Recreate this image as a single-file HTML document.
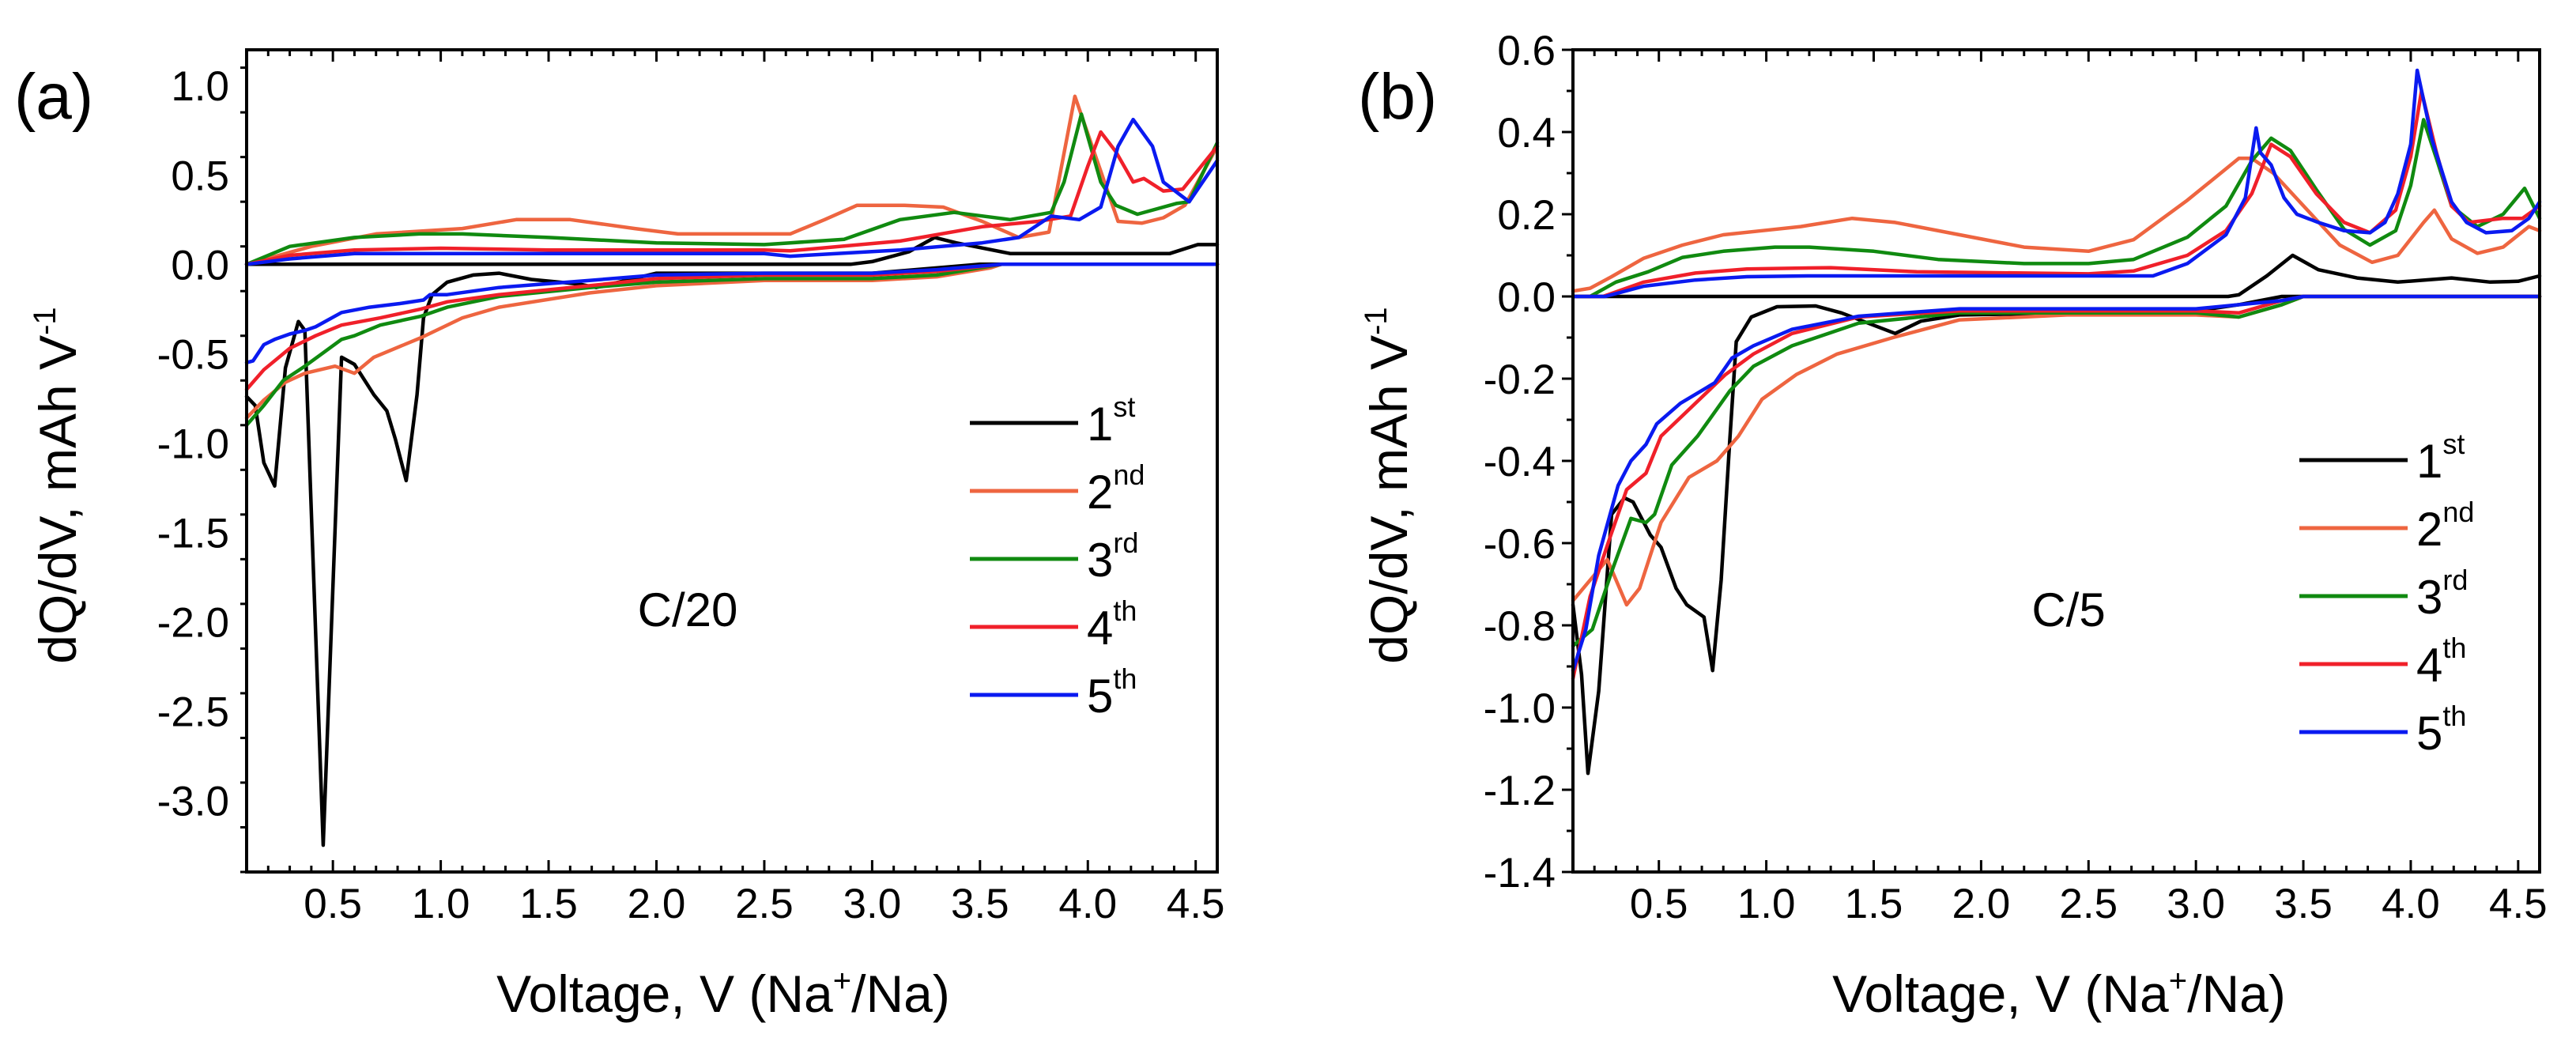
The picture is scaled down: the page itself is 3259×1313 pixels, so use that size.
<!DOCTYPE html>
<html><head><meta charset="utf-8"><style>
html,body{margin:0;padding:0;background:#fff;}
svg{display:block;font-family:"Liberation Sans",Arial,sans-serif;}
</style></head><body>
<svg id="fig" width="3259" height="1313" viewBox="0 0 3259 1313" xmlns="http://www.w3.org/2000/svg"></svg>
<script>
// ---------- Panel (a) C/20 data ----------
const aC1x=[0.1,2.9,3.0,3.17,3.29,3.39,3.64,4.38,4.51,4.6];
const aC1y=[0,0,0.015,0.07,0.15,0.12,0.06,0.06,0.11,0.11];
const aD1x=[0.1,0.14,0.18,0.23,0.28,0.34,0.37,0.455,0.54,0.6,0.69,0.75,0.79,0.84,0.89,0.92,0.96,1.03,1.15,1.27,1.42,1.64,1.72,2.0,3.0,3.2,3.5,4.6];
const aD1y=[-0.74,-0.79,-1.11,-1.24,-0.58,-0.32,-0.37,-3.25,-0.52,-0.56,-0.73,-0.82,-0.98,-1.21,-0.73,-0.3,-0.17,-0.1,-0.06,-0.05,-0.085,-0.11,-0.13,-0.05,-0.05,-0.03,0,0];
const aC2x=[0.1,0.4,0.7,1.1,1.35,1.6,1.9,2.1,2.5,2.62,2.78,2.93,3.15,3.33,3.51,3.68,3.82,3.94,4.14,4.25,4.35,4.45,4.6];
const aC2y=[0,0.1,0.17,0.2,0.25,0.25,0.2,0.17,0.17,0.17,0.25,0.33,0.33,0.32,0.24,0.15,0.18,0.94,0.24,0.23,0.26,0.33,0.66];
const aD2x=[0.1,0.18,0.28,0.37,0.51,0.6,0.69,0.91,1.1,1.27,1.69,2.0,2.5,3.0,3.3,3.55,3.6,4.6];
const aD2y=[-0.86,-0.76,-0.66,-0.61,-0.57,-0.61,-0.52,-0.41,-0.3,-0.24,-0.16,-0.12,-0.09,-0.09,-0.07,-0.02,0,0];
const aC3x=[0.1,0.3,0.6,0.9,1.1,1.5,2.0,2.5,2.62,2.87,3.13,3.38,3.64,3.83,3.89,3.97,4.06,4.13,4.23,4.41,4.47,4.6];
const aC3y=[0,0.1,0.15,0.17,0.17,0.15,0.12,0.11,0.12,0.14,0.25,0.29,0.25,0.29,0.46,0.84,0.46,0.33,0.28,0.34,0.35,0.68];
const aD3x=[0.1,0.18,0.27,0.37,0.45,0.54,0.6,0.72,0.91,1.03,1.27,1.69,2.0,2.5,3.0,3.3,3.6,4.6];
const aD3y=[-0.9,-0.79,-0.65,-0.57,-0.5,-0.42,-0.4,-0.34,-0.29,-0.24,-0.18,-0.13,-0.1,-0.08,-0.08,-0.06,0,0];
const aC4x=[0.1,0.3,0.6,1.0,1.5,2.5,2.62,3.13,3.51,3.77,3.92,4.0,4.06,4.13,4.21,4.26,4.35,4.44,4.6];
const aC4y=[0,0.05,0.08,0.09,0.08,0.08,0.075,0.13,0.21,0.24,0.27,0.55,0.74,0.63,0.46,0.48,0.41,0.42,0.66];
const aD4x=[0.1,0.18,0.3,0.42,0.54,0.72,0.91,1.03,1.27,1.69,2.0,2.5,3.0,3.3,3.6,4.6];
const aD4y=[-0.7,-0.59,-0.47,-0.4,-0.34,-0.3,-0.25,-0.21,-0.17,-0.12,-0.08,-0.06,-0.06,-0.04,0,0];
const aC5x=[0.1,0.3,0.6,2.5,2.62,3.13,3.51,3.68,3.83,3.96,4.06,4.14,4.21,4.3,4.35,4.47,4.6];
const aC5y=[0,0.03,0.06,0.06,0.045,0.08,0.12,0.15,0.27,0.25,0.32,0.66,0.81,0.66,0.46,0.35,0.58];
const aD5x=[0.1,0.13,0.18,0.23,0.3,0.37,0.42,0.54,0.67,0.81,0.92,0.95,1.03,1.27,1.69,2.0,2.5,3.0,3.3,3.6,4.6];
const aD5y=[-0.55,-0.54,-0.45,-0.42,-0.39,-0.37,-0.35,-0.27,-0.24,-0.22,-0.2,-0.17,-0.17,-0.13,-0.09,-0.06,-0.05,-0.05,-0.03,0,0];

// ---------- Panel (b) C/5 data ----------
const bC1x=[0.1,3.15,3.2,3.33,3.45,3.57,3.75,3.94,4.19,4.37,4.5,4.6];
const bC1y=[0,0,0.004,0.05,0.1,0.065,0.045,0.035,0.045,0.035,0.037,0.05];
const bD1x=[0.1,0.14,0.17,0.22,0.28,0.34,0.38,0.46,0.51,0.58,0.63,0.71,0.75,0.79,0.83,0.86,0.93,1.05,1.23,1.35,1.6,1.72,1.9,3.0,3.2,3.4,4.6];
const bD1y=[-0.75,-0.92,-1.16,-0.96,-0.53,-0.49,-0.5,-0.58,-0.61,-0.71,-0.75,-0.78,-0.91,-0.69,-0.35,-0.11,-0.05,-0.025,-0.023,-0.04,-0.09,-0.06,-0.045,-0.035,-0.02,0,0];
const bC2x=[0.1,0.18,0.28,0.43,0.61,0.8,0.98,1.16,1.4,1.6,1.9,2.2,2.5,2.71,2.96,3.2,3.26,3.36,3.51,3.67,3.82,3.94,4.06,4.11,4.19,4.31,4.43,4.55,4.6];
const bC2y=[0.013,0.02,0.048,0.093,0.125,0.15,0.16,0.17,0.19,0.18,0.15,0.12,0.11,0.138,0.234,0.336,0.336,0.3,0.215,0.125,0.083,0.1,0.18,0.21,0.14,0.105,0.12,0.17,0.16];
const bD2x=[0.1,0.18,0.26,0.35,0.41,0.51,0.64,0.77,0.87,0.98,1.14,1.33,1.59,1.9,2.4,3.0,3.2,3.4,3.5,4.6];
const bD2y=[-0.74,-0.69,-0.64,-0.75,-0.71,-0.55,-0.44,-0.4,-0.34,-0.25,-0.19,-0.14,-0.1,-0.057,-0.045,-0.045,-0.05,-0.02,0,0];
const bC3x=[0.1,0.18,0.3,0.45,0.61,0.8,1.04,1.2,1.5,1.8,2.2,2.5,2.71,2.96,3.14,3.26,3.35,3.44,3.56,3.69,3.81,3.93,4.0,4.06,4.12,4.19,4.31,4.43,4.53,4.6];
const bC3y=[0,0,0.035,0.06,0.095,0.11,0.12,0.12,0.11,0.09,0.08,0.08,0.09,0.144,0.22,0.33,0.385,0.355,0.26,0.163,0.125,0.16,0.27,0.43,0.335,0.22,0.17,0.2,0.263,0.19];
const bD3x=[0.1,0.19,0.28,0.37,0.44,0.48,0.56,0.68,0.83,0.94,1.12,1.43,1.9,3.0,3.2,3.4,3.5,4.6];
const bD3y=[-0.85,-0.81,-0.67,-0.54,-0.55,-0.53,-0.41,-0.34,-0.23,-0.17,-0.12,-0.065,-0.04,-0.04,-0.05,-0.02,0,0];
const bC4x=[0.1,0.24,0.43,0.67,0.91,1.3,1.7,2.5,2.71,2.96,3.14,3.26,3.35,3.44,3.56,3.69,3.81,3.93,4.0,4.05,4.12,4.19,4.27,4.43,4.52,4.6];
const bC4y=[0,0,0.035,0.057,0.067,0.07,0.06,0.055,0.062,0.1,0.16,0.25,0.37,0.34,0.25,0.18,0.155,0.21,0.34,0.5,0.35,0.22,0.18,0.19,0.19,0.22];
const bD4x=[0.1,0.18,0.27,0.35,0.44,0.51,0.63,0.81,0.94,1.12,1.43,1.9,3.0,3.2,3.4,3.5,4.6];
const bD4y=[-0.93,-0.73,-0.59,-0.47,-0.43,-0.34,-0.28,-0.19,-0.14,-0.09,-0.05,-0.035,-0.035,-0.04,-0.01,0,0];
const bC5x=[0.1,0.25,0.43,0.67,0.91,1.2,2.8,2.96,3.14,3.23,3.28,3.3,3.35,3.41,3.47,3.57,3.69,3.81,3.88,3.94,4.0,4.03,4.1,4.19,4.26,4.35,4.47,4.55,4.6];
const bC5y=[0,0,0.025,0.04,0.048,0.05,0.05,0.08,0.15,0.24,0.41,0.35,0.32,0.24,0.2,0.18,0.16,0.155,0.18,0.25,0.37,0.55,0.38,0.23,0.18,0.155,0.16,0.19,0.23];
const bD5x=[0.1,0.16,0.22,0.31,0.37,0.44,0.49,0.6,0.76,0.84,0.94,1.12,1.43,1.9,3.0,3.4,3.5,4.6];
const bD5y=[-0.91,-0.81,-0.63,-0.46,-0.4,-0.36,-0.31,-0.26,-0.21,-0.15,-0.12,-0.08,-0.048,-0.03,-0.03,-0.01,0,0];

const xTickLabels=["0.5","1.0","1.5","2.0","2.5","3.0","3.5","4.0","4.5"];
const aYTickLabels=["1.0","0.5","0.0","-0.5","-1.0","-1.5","-2.0","-2.5","-3.0"];
const bYTickLabels=["0.6","0.4","0.2","0.0","-0.2","-0.4","-0.6","-0.8","-1.0","-1.2","-1.4"];
const legendOrdinals=["1","2","3","4","5"];
const legendSuffixes=["st","nd","rd","th","th"];

const COLORS=["#000000","#ee6540","#108a10","#f0202a","#0a1af0"];
const NS="http://www.w3.org/2000/svg";
const svg=document.getElementById('fig');
function mk(tag,attrs,parent){const e=document.createElementNS(NS,tag);for(const k in attrs)e.setAttribute(k,attrs[k]);(parent||svg).appendChild(e);return e;}

function panel(cfg){
  const g=mk('g',{});
  
  
  const X=v=>cfg.L+(v-cfg.xmin)/(cfg.xmax-cfg.xmin)*(cfg.R-cfg.L);
  const Y=v=>cfg.T+(cfg.ymax-v)/(cfg.ymax-cfg.ymin)*(cfg.B-cfg.T);
  // series
  cfg.series.forEach((s,i)=>{
    [[s[0],s[1]],[s[2],s[3]]].forEach((p,j)=>{
      const pts=p[0].map((x,k)=>X(x).toFixed(1)+','+Y(p[1][k]).toFixed(1)).join(' ');
      const pl=mk('polyline',{points:pts,fill:'none',stroke:COLORS[i],'stroke-width':4.5,'stroke-linejoin':'round','stroke-linecap':'round'},g);
      
      
    });
  });
  // frame
  const fr=mk('rect',{x:cfg.L,y:cfg.T,width:cfg.R-cfg.L,height:cfg.B-cfg.T,fill:'none',stroke:'#000','stroke-width':4},g);
  
  
  // x ticks
  for(let k=1;k<=45;k++){const v=k/10;if(v<cfg.xmin-1e-9||v>cfg.xmax+1e-9)continue;
    const maj=(k%5===0);const len=maj?15:8;const x=X(v);
    mk('line',{x1:x,x2:x,y1:cfg.B,y2:cfg.B-len,stroke:'#000','stroke-width':3},g);
    mk('line',{x1:x,x2:x,y1:cfg.T,y2:cfg.T+len,stroke:'#000','stroke-width':3},g);}
  xTickLabels.forEach(t=>{const tx=mk('text',{x:X(parseFloat(t)),y:cfg.B+58,'font-size':53,'text-anchor':'middle',fill:'#000'},g);tx.textContent=t;
    
    });
  // y ticks
  const nMinor=Math.round((cfg.ymax-cfg.ymin)/cfg.ymin_step);
  for(let k=0;k<=nMinor;k++){const v=cfg.ymin+k*cfg.ymin_step;const y=Y(v);
    const maj=Math.abs(Math.round(v/cfg.ymaj)*cfg.ymaj-v)<1e-6;
    mk('line',{x1:cfg.L,x2:cfg.L-(maj?14:8),y1:y,y2:y,stroke:'#000','stroke-width':3},g);}
  cfg.ylabels.forEach(t=>{const tx=mk('text',{x:cfg.L-22,y:Y(parseFloat(t))+19,'font-size':53,'text-anchor':'end',fill:'#000'},g);tx.textContent=t;
    
    });
  // axis titles
  const xt=mk('text',{x:cfg.xtx,y:1280,'font-size':66,'text-anchor':'middle',fill:'#000'},g);
  xt.innerHTML='Voltage, V (Na<tspan dy="-26" font-size="40">+</tspan><tspan dy="26">/Na)</tspan>';
  
  
  const yt=mk('text',{x:0,y:0,'font-size':66,'text-anchor':'middle',fill:'#000',transform:`translate(${cfg.ytx},${cfg.yty}) rotate(-90)`},g);
  yt.innerHTML='dQ/dV, mAh V<tspan dy="-26" font-size="40">-1</tspan>';
  
  
  // panel label
  const pl=mk('text',{x:cfg.plx,y:150,'font-size':82,fill:'#000'},g);pl.textContent=cfg.plabel;
  
  
  const rl=mk('text',{x:cfg.rateX,y:792,'font-size':60,'text-anchor':'middle',fill:'#000'},g);rl.textContent=cfg.rate;
  
  
  // legend
  legendOrdinals.forEach((o,i)=>{const y=cfg.legY+i*cfg.legDy;
    const le=mk('g',{},g);
    
    
    mk('line',{x1:cfg.legX,x2:cfg.legX+137,y1:y,y2:y,stroke:COLORS[i],'stroke-width':5},le);
    const t=mk('text',{x:cfg.legX+148,y:y+22,'font-size':60,fill:'#000'},le);
    t.innerHTML=o+`<tspan dy="-30" font-size="36">${legendSuffixes[i]}</tspan>`;});
}

panel({name:'panel-a',L:312,R:1540,T:63,B:1103,xmin:0.1,xmax:4.6,ymin:-3.4,ymax:1.2,ymaj:0.5,ymin_step:0.25,
  ylabels:aYTickLabels,xtx:915,ytx:96,yty:614,plx:18,plabel:'(a)',rate:'C/20',rateX:870,legX:1227,legY:535,legDy:86,
  series:[[aC1x,aC1y,aD1x,aD1y],[aC2x,aC2y,aD2x,aD2y],[aC3x,aC3y,aD3x,aD3y],[aC4x,aC4y,aD4x,aD4y],[aC5x,aC5y,aD5x,aD5y]]});
panel({name:'panel-b',L:1990,R:3213,T:63,B:1103,xmin:0.1,xmax:4.6,ymin:-1.4,ymax:0.6,ymaj:0.2,ymin_step:0.1,
  ylabels:bYTickLabels,xtx:2605,ytx:1780,yty:614,plx:1718,plabel:'(b)',rate:'C/5',rateX:2617,legX:2909,legY:582,legDy:86,
  series:[[bC1x,bC1y,bD1x,bD1y],[bC2x,bC2y,bD2x,bD2y],[bC3x,bC3y,bD3x,bD3y],[bC4x,bC4y,bD4x,bD4y],[bC5x,bC5y,bD5x,bD5y]]});
</script>
</body></html>
